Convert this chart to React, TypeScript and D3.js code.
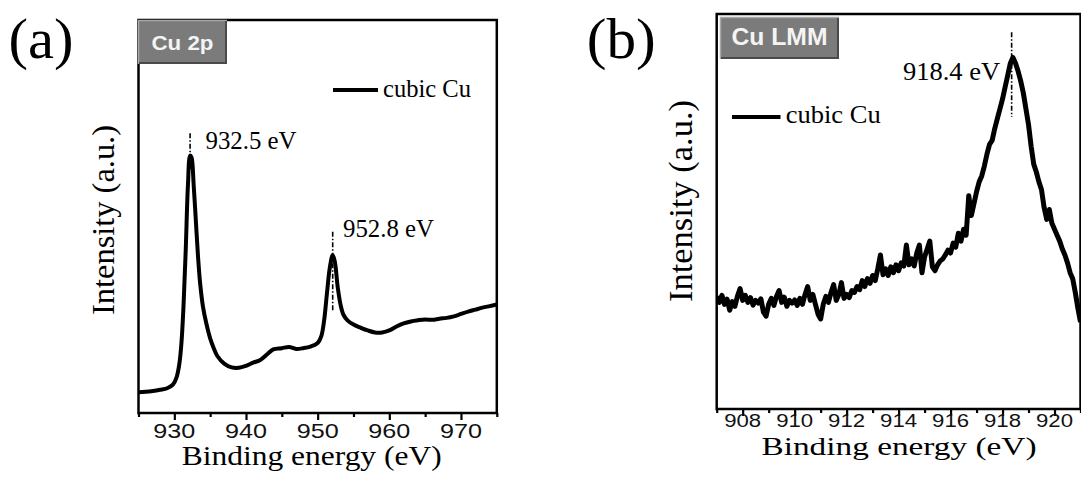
import React, { useRef, useEffect } from 'react';
import * as d3 from 'd3';

// ---- data ----
// (a) Cu 2p: binding energy (eV) and intensity (a.u., 0-100 scale)
const cu2pEnergy = [
  925, 926, 927, 928, 929, 929.8, 930.3, 930.7, 931.0, 931.3, 931.6, 931.9, 932.2, 932.4,
  932.7, 933.0, 933.3, 933.6, 934.0, 934.5, 935.0, 935.5, 936.0, 937.0, 938.0, 939.0, 940.0,
  941.0, 942.0, 943.0, 943.8, 945.0, 946.0, 947.0, 948.0, 949.0, 950.0, 950.5, 950.9, 951.3,
  951.7, 952.1, 952.4, 952.8, 953.2, 953.6, 954.2, 955.0, 956.0, 957.0, 958.0, 959.0, 960.0,
  961.0, 962.0, 963.0, 964.0, 965.0, 966.0, 967.0, 968.0, 969.0, 970.0, 971.0, 972.0, 973.0,
  974.0, 975.0,
];
const cu2pIntensity = [
  5.3, 5.4, 5.6, 5.9, 6.3, 7.2, 9.0, 12.5, 18, 28, 42, 58, 65.5, 65.0,
  58, 49, 40, 33, 27, 22.5, 19, 16.5, 14.5, 12.5, 11.6, 11.5, 12.0,
  12.8, 13.5, 15.0, 16.2, 16.5, 16.8, 16.3, 16.5, 16.9, 17.8, 19.5, 23.5, 30.5,
  37, 40.2, 38.5, 32, 27.5, 25, 23.5, 22.5, 21.7, 21.0, 20.5, 20.5, 21,
  22, 22.8, 23.3, 23.6, 23.8, 23.7, 24.0, 24.2, 24.6, 25.2, 25.8, 26.3, 26.8,
  27.2, 27.6,
];

// (b) Cu LMM: [binding energy, intensity]
const lmmPoints: [number, number][] = [
  [907.0, 28.5], [907.1, 27.0], [907.2, 28.8], [907.3, 26.5], [907.4, 27.8], [907.5, 25.0],
  [907.6, 27.2], [907.7, 26.0], [907.8, 28.6], [907.9, 30.5], [908.0, 27.5], [908.1, 28.8],
  [908.2, 27.0], [908.3, 28.2], [908.4, 26.3], [908.5, 27.5], [908.6, 26.8], [908.7, 27.9],
  [908.8, 24.5], [908.9, 23.5], [909.0, 26.5], [909.1, 28.0], [909.2, 26.2], [909.3, 28.5],
  [909.4, 30.0], [909.5, 27.0], [909.6, 28.3], [909.7, 26.0], [909.8, 27.5], [909.9, 26.8],
  [910.0, 27.6], [910.1, 26.2], [910.2, 28.0], [910.3, 26.5], [910.4, 29.0], [910.5, 31.0],
  [910.6, 27.5], [910.7, 29.0], [910.8, 26.5], [910.9, 24.0], [911.0, 22.8], [911.1, 26.5],
  [911.2, 28.5], [911.3, 27.0], [911.4, 29.5], [911.5, 31.5], [911.6, 27.5], [911.7, 29.0],
  [911.8, 32.0], [911.9, 28.0], [912.0, 29.0], [912.1, 28.2], [912.2, 30.0], [912.3, 29.5],
  [912.4, 31.0], [912.5, 30.2], [912.6, 32.5], [912.7, 31.0], [912.8, 33.0], [912.9, 31.8],
  [913.0, 33.8], [913.1, 32.5], [913.2, 35.5], [913.3, 39.0], [913.4, 34.0], [913.5, 35.5],
  [913.6, 33.8], [913.7, 36.0], [913.8, 34.5], [913.9, 36.5], [914.0, 35.0], [914.1, 37.0],
  [914.2, 36.2], [914.3, 41.5], [914.4, 36.5], [914.5, 38.0], [914.6, 36.2], [914.7, 39.5],
  [914.8, 41.5], [914.9, 34.5], [915.0, 38.5], [915.1, 40.5], [915.2, 42.5], [915.3, 36.0],
  [915.4, 35.0], [915.5, 36.5], [915.6, 37.5], [915.7, 38.0], [915.8, 39.0], [915.9, 40.2],
  [916.0, 39.5], [916.1, 42.0], [916.2, 41.0], [916.3, 44.5], [916.4, 42.5], [916.5, 45.5],
  [916.6, 44.0], [916.7, 54.0], [916.8, 49.0], [916.9, 52.0], [917.0, 55.0], [917.1, 57.5],
  [917.2, 59.0], [917.3, 61.5], [917.4, 64.5], [917.5, 67.0], [917.6, 68.0], [917.7, 71.0],
  [917.8, 73.5], [917.9, 76.0], [918.0, 78.5], [918.1, 81.5], [918.2, 84.5], [918.3, 87.5],
  [918.4, 89.0], [918.5, 87.5], [918.6, 85.5], [918.7, 83.0], [918.8, 80.0], [918.9, 76.0],
  [919.0, 72.0], [919.1, 66.5], [919.2, 62.0], [919.3, 60.0], [919.4, 57.5], [919.5, 55.5],
  [919.6, 51.0], [919.7, 48.0], [919.8, 50.5], [919.9, 47.0], [920.0, 45.5], [920.1, 44.0],
  [920.2, 42.5], [920.3, 40.5], [920.4, 39.0], [920.5, 37.0], [920.6, 34.5], [920.7, 33.0],
  [920.8, 29.5], [920.9, 25.5], [921.0, 22.0],
];

const cu2pTicks = [930, 940, 950, 960, 970];
const cu2pMinorTicks = [925, 935, 945, 955, 965, 975];
const lmmTicks = [908, 910, 912, 914, 916, 918, 920];
const lmmMinorTicks = [907, 909, 911, 913, 915, 917, 919, 921];

// peak markers: energy, top and bottom of the dash-dot line (intensity units)
const cu2pPeaks = [
  { e: 932.2, top: 71.2, bottom: 62, label: '932.5 eV' },
  { e: 952.1, top: 46.1, bottom: 25.7, label: '952.8 eV' },
];
const lmmPeaks = [{ e: 918.35, top: 95.4, bottom: 73.9, label: '918.4 eV' }];

const SERIF = '"Liberation Serif", "Times New Roman", serif';
const SANS = '"Liberation Sans", Arial, sans-serif';

type Sel = d3.Selection<any, unknown, null, undefined>;

function txt(g: Sel, s: string, x: number, y: number, o: any = {}) {
  const t = g.append('text')
    .attr('x', x)
    .attr('y', y)
    .style('font-family', o.family || SERIF)
    .style('font-size', `${o.size || 25}px`)
    .style('font-weight', o.weight || 'normal')
    .attr('fill', o.fill || '#000')
    .attr('text-anchor', o.anchor || 'start')
    .text(s);
  if (o.len) t.attr('textLength', o.len).attr('lengthAdjust', 'spacingAndGlyphs');
  if (o.rotate) t.attr('transform', `rotate(${o.rotate},${x},${y})`);
  return t;
}

function tagBox(g: Sel, s: string, x0: number, y0: number, x1: number, y1: number, base: number, size: number, len: number) {
  g.append('rect').attr('x', x0).attr('y', y0).attr('width', x1 - x0).attr('height', y1 - y0).attr('fill', '#7b7b7b');
  g.append('path').attr('d', `M${x0 + 0.5},${y1} V${y0 + 0.5} H${x1}`).attr('stroke', '#a8a8a8').attr('fill', 'none').attr('stroke-width', 1.5);
  g.append('path').attr('d', `M${x0 + 1},${y1 - 1} H${x1 - 1} V${y0 + 1}`).attr('stroke', '#4a4a4a').attr('fill', 'none').attr('stroke-width', 2);
  txt(g, s, (x0 + x1) / 2, base, { family: SANS, size, weight: 'bold', fill: '#f4f4f4', anchor: 'middle', len });
}

export default function App() {
  const svgRef = useRef<SVGSVGElement>(null);

  useEffect(() => {
    if (!svgRef.current) return;
    const svg = d3.select(svgRef.current);
    svg.selectAll('*').remove();

    const drawPanel = (p: any) => {
      const g = svg.append('g');
      const x = d3.scaleLinear().domain(p.domain).range([p.left, p.right]);
      const y = d3.scaleLinear().domain([0, 100]).range([p.bottom, p.top]);

      const clipId = `clip-${p.id}`;
      svg.append('defs').append('clipPath').attr('id', clipId)
        .append('rect').attr('x', p.left).attr('y', p.top)
        .attr('width', p.right - p.left).attr('height', p.bottom - p.top);

      // dash-dot peak guides
      p.peaks.forEach((pk: any) => {
        g.append('line')
          .attr('x1', x(pk.e)).attr('x2', x(pk.e))
          .attr('y1', y(pk.top)).attr('y2', y(pk.bottom))
          .attr('stroke', '#000').attr('stroke-width', 1.6)
          .attr('stroke-dasharray', '5,2,1.5,2');
      });

      const line = d3.line<[number, number]>()
        .x(d => x(d[0]))
        .y(d => y(d[1]))
        .curve(p.curve);

      g.append('path')
        .datum(p.points)
        .attr('clip-path', `url(#${clipId})`)
        .attr('fill', 'none')
        .attr('stroke', '#000')
        .attr('stroke-width', p.lineWidth)
        .attr('stroke-linejoin', 'round')
        .attr('d', line);

      // frame
      g.append('rect')
        .attr('x', p.left).attr('y', p.top)
        .attr('width', p.right - p.left).attr('height', p.bottom - p.top)
        .attr('fill', 'none').attr('stroke', '#000').attr('stroke-width', 2.5);

      // bottom axis: major + minor ticks, outward; labels drawn separately
      const major = g.append('g').attr('transform', `translate(0,${p.bottom})`)
        .call(d3.axisBottom(x).tickValues(p.ticks).tickSize(7).tickFormat(() => ''));
      major.select('.domain').remove();
      major.selectAll('.tick line').attr('stroke', '#000').attr('stroke-width', 2.2);
      major.selectAll('.tick text').remove();

      const minor = g.append('g').attr('transform', `translate(0,${p.bottom})`)
        .call(d3.axisBottom(x).tickValues(p.minor).tickSize(4).tickFormat(() => ''));
      minor.select('.domain').remove();
      minor.selectAll('.tick line').attr('stroke', '#000').attr('stroke-width', 2.2);
      minor.selectAll('.tick text').remove();

      p.ticks.forEach((t: number) => {
        txt(g, String(t), x(t), p.tickBase, { family: SANS, size: p.tickSize, len: p.tickLen, anchor: 'middle', fill: '#111' });
      });

      return { g, x, y };
    };

    // ---- panel (a) ----
    const a = drawPanel({
      id: 'a', domain: [925, 975], left: 138.5, right: 496.8, top: 20, bottom: 413,
      points: cu2pEnergy.map((e, i) => [e, cu2pIntensity[i]]),
      curve: d3.curveCatmullRom, lineWidth: 4,
      ticks: cu2pTicks, minor: cu2pMinorTicks, tickBase: 438, tickSize: 21, tickLen: 42,
      peaks: cu2pPeaks,
    });
    txt(a.g, cu2pPeaks[0].label, 205.5, 148.5, { size: 25, len: 91 });
    txt(a.g, cu2pPeaks[1].label, 343, 237, { size: 25, len: 91 });
    a.g.append('line').attr('x1', 333).attr('x2', 378).attr('y1', 90).attr('y2', 90)
      .attr('stroke', '#000').attr('stroke-width', 4);
    txt(a.g, 'cubic Cu', 383, 97, { size: 26, len: 88 });
    tagBox(a.g, 'Cu 2p', 138, 20, 227, 64, 50, 21, 62);
    txt(a.g, '(a)', 8.6, 58, { size: 56, len: 65 });
    txt(a.g, 'Binding energy (eV)', 311.7, 465, { size: 28, len: 260, anchor: 'middle' });
    txt(a.g, 'Intensity (a.u.)', 114, 220, { size: 32, len: 190, anchor: 'middle', rotate: -90 });

    // ---- panel (b) ----
    const b = drawPanel({
      id: 'b', domain: [907, 921], left: 716.7, right: 1080.5, top: 14, bottom: 409,
      points: lmmPoints,
      curve: d3.curveLinear, lineWidth: 5,
      ticks: lmmTicks, minor: lmmMinorTicks, tickBase: 427, tickSize: 18, tickLen: 37,
      peaks: lmmPeaks,
    });
    txt(b.g, lmmPeaks[0].label, 903, 80, { size: 25, len: 97 });
    b.g.append('line').attr('x1', 732).attr('x2', 780.5).attr('y1', 117).attr('y2', 117)
      .attr('stroke', '#000').attr('stroke-width', 4);
    txt(b.g, 'cubic Cu', 785.7, 123, { size: 26, len: 95 });
    tagBox(b.g, 'Cu LMM', 720, 17, 839, 59, 45, 23, 96);
    txt(b.g, '(b)', 586.7, 58, { size: 56, len: 69 });
    txt(b.g, 'Binding energy (eV)', 899, 455, { size: 26, len: 275, anchor: 'middle' });
    txt(b.g, 'Intensity (a.u.)', 692, 201, { size: 33, len: 202, anchor: 'middle', rotate: -90 });
  }, []);

  return (
    <div style={{ position: 'absolute', left: 0, top: 0 }}>
      <svg ref={svgRef} width={1081} height={486} style={{ display: 'block', background: '#fff' }} />
    </div>
  );
}
